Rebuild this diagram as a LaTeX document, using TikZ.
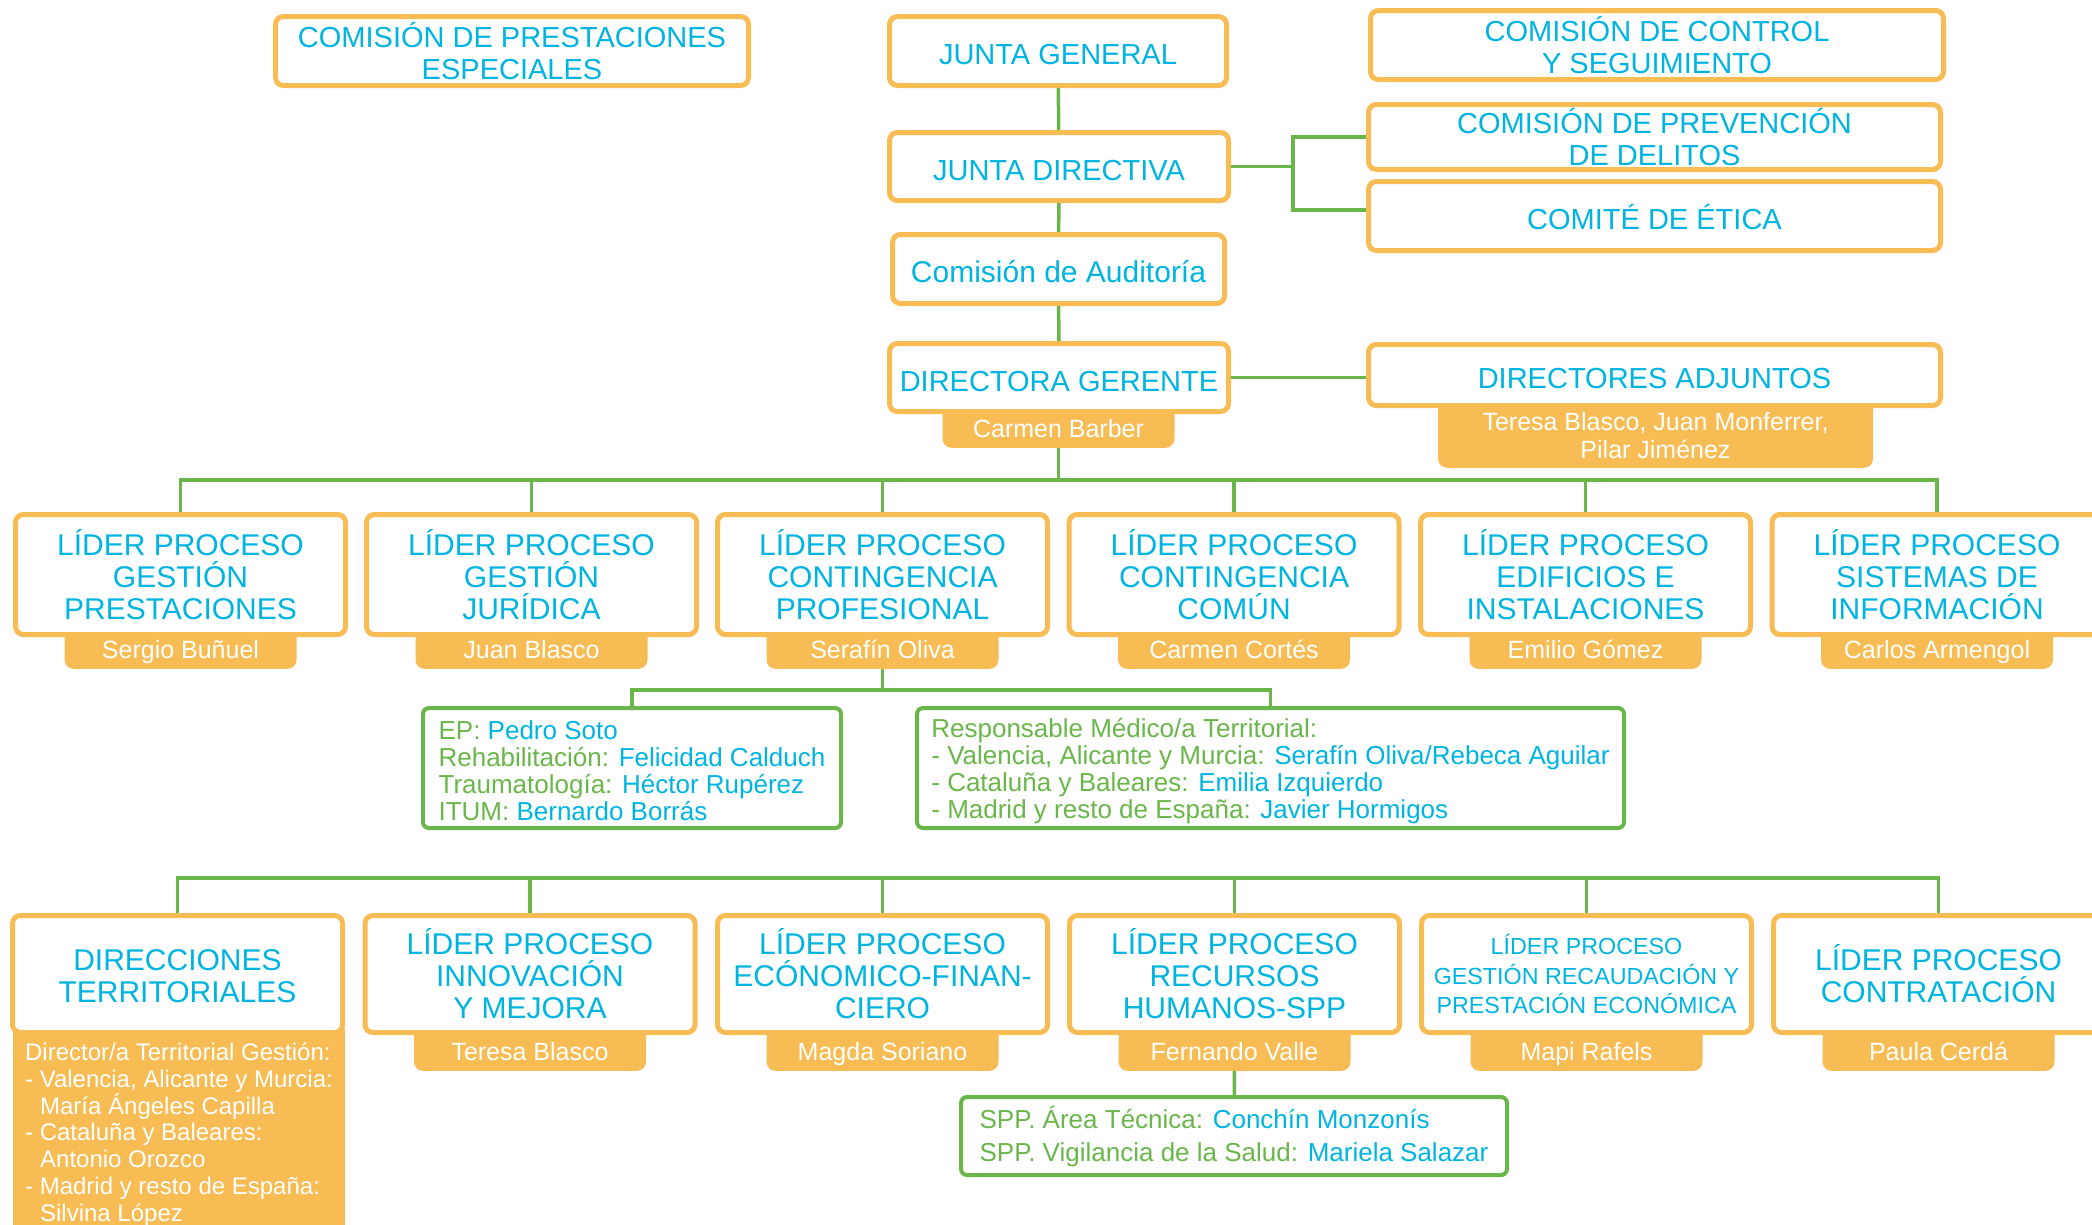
\documentclass[tikz,border=0pt]{standalone}
\usepackage{fontspec}
\setmainfont{Liberation Sans}
\usepackage{tikz}

\definecolor{naranja}{HTML}{F8BC55}
\definecolor{cian}{HTML}{00B4E1}
\definecolor{verde}{HTML}{6BB64A}
\newcommand{\etq}[1]{\textcolor{verde}{#1}}
\newcommand{\alto}{\rule{0pt}{25pt}}

\tikzset{
  caja/.style={draw=naranja, line width=5pt, fill=white, rounded corners=8pt, align=center, text=cian, inner sep=0pt, font=\fontsize{30}{32}\selectfont},
  alta/.style={caja, font=\fontsize{29}{32}\selectfont},
  una/.style={text height=27pt, text depth=0pt},
  lider/.style={caja, minimum width=330pt, minimum height=120pt},
  lidertwo/.style={lider, minimum height=117pt},
  fichabase/.style={fill=naranja, rounded corners=9pt, text=white, inner sep=0pt, font=\fontsize{25}{28}\selectfont},
  ficha/.style={fichabase, anchor=south, minimum width=232pt, minimum height=44pt, text height=24pt, text depth=0pt},
  nota/.style={draw=verde, line width=4pt, fill=white, rounded corners=6pt, align=left, text=cian, inner sep=0pt, font=\fontsize{26}{27}\selectfont},
  linea/.style={draw=verde, line width=3.5pt},
}

\begin{document}
\begin{tikzpicture}[x=1pt, y=-1pt]
\useasboundingbox (0,0) rectangle (2092,1224);

\node[alta, minimum width=473pt, minimum height=69pt] (cpe) at (512,51) {COMISIÓN DE PRESTACIONES\\ESPECIALES};
\node[alta, una, minimum width=337pt, minimum height=69pt] (jg) at (1058,51) {JUNTA GENERAL};
\node[alta, minimum width=573pt, minimum height=69pt] (ccs) at (1657,45) {COMISIÓN DE CONTROL\\Y SEGUIMIENTO};
\node[alta, una, minimum width=339pt, minimum height=68pt] (jd) at (1059,166.5) {JUNTA DIRECTIVA};
\node[alta, minimum width=572pt, minimum height=65pt] (cpd) at (1654.5,137) {COMISIÓN DE PREVENCIÓN\\DE DELITOS};
\node[alta, una, minimum width=572pt, minimum height=69pt] (ce) at (1654.5,216) {COMITÉ DE ÉTICA};
\node[caja, una, minimum width=332pt, minimum height=69pt] (ca) at (1058.5,269) {Comisión de Auditoría};

\node[ficha] (tdg) at (1058.5,448) {Carmen Barber};
\node[alta, una, minimum width=339pt, minimum height=68pt] (dg) at (1059,377.5) {DIRECTORA GERENTE};
\node[fichabase, anchor=south, minimum width=435pt, minimum height=72pt, align=center] (tda) at (1655.5,468) {\rule{0pt}{26pt}Teresa Blasco, Juan Monferrer,\\Pilar Jiménez};
\node[alta, una, minimum width=572pt, minimum height=61pt] (da) at (1654.5,375) {DIRECTORES ADJUNTOS};

\node[ficha] (t1) at (180.5,669) {Sergio Buñuel};
\node[ficha] (t2) at (531.5,669) {Juan Blasco};
\node[ficha] (t3) at (882.5,669) {Serafín Oliva};
\node[ficha] (t4) at (1234,669) {Carmen Cortés};
\node[ficha] (t5) at (1585.5,669) {Emilio Gómez};
\node[ficha] (t6) at (1937,669) {Carlos Armengol};
\node[lider] (b1) at (180.5,574.5) {LÍDER PROCESO\\GESTIÓN\\PRESTACIONES};
\node[lider] (b2) at (531.5,574.5) {LÍDER PROCESO\\GESTIÓN\\JURÍDICA};
\node[lider] (b3) at (882.5,574.5) {LÍDER PROCESO\\CONTINGENCIA\\PROFESIONAL};
\node[lider] (b4) at (1234,574.5) {LÍDER PROCESO\\CONTINGENCIA\\COMÚN};
\node[lider] (b5) at (1585.5,574.5) {LÍDER PROCESO\\EDIFICIOS E\\INSTALACIONES};
\node[lider] (b6) at (1937,574.5) {LÍDER PROCESO\\SISTEMAS DE\\INFORMACIÓN};

\node[nota, minimum width=418pt, minimum height=120pt] (ep) at (632,768) {\alto\etq{EP:} Pedro Soto\\\etq{Rehabilitación:} Felicidad Calduch\\\etq{Traumatología:} Héctor Rupérez\\\etq{ITUM:} Bernardo Borrás};
\node[nota, minimum width=707pt, minimum height=120pt] (med) at (1270.5,768) {\alto\etq{Responsable Médico/a Territorial:}\\\etq{- Valencia, Alicante y Murcia:} Serafín Oliva/Rebeca Aguilar\\\etq{- Cataluña y Baleares:} Emilia Izquierdo\\\etq{- Madrid y resto de España:} Javier Hormigos};

\node[fichabase, anchor=north, sharp corners, minimum width=332pt, align=left, inner ysep=15pt, font=\fontsize{24}{26.7}\selectfont] (tdt) at (179,1028) {Director/a Territorial Gestión:\\- Valencia, Alicante y Murcia:\\\hspace*{15pt}María Ángeles Capilla\\- Cataluña y Baleares:\\\hspace*{15pt}Antonio Orozco\\- Madrid y resto de España:\\\hspace*{15pt}Silvina López};
\node[ficha] (t8) at (530,1071) {Teresa Blasco};
\node[ficha] (t9) at (882.5,1071) {Magda Soriano};
\node[ficha] (t10) at (1234.5,1071) {Fernando Valle};
\node[ficha] (t11) at (1586.5,1071) {Mapi Rafels};
\node[ficha] (t12) at (1938.5,1071) {Paula Cerdá};
\node[lidertwo] (b7) at (177.5,974) {\alto DIRECCIONES\\TERRITORIALES};
\node[lidertwo] (b8) at (530,974) {LÍDER PROCESO\\INNOVACIÓN\\Y MEJORA};
\node[lidertwo] (b9) at (882.5,974) {LÍDER PROCESO\\ECÓNOMICO-FINAN-\\CIERO};
\node[lidertwo] (b10) at (1234.5,974) {LÍDER PROCESO\\RECURSOS\\HUMANOS-SPP};
\node[lidertwo, font=\fontsize{23.3}{29.5}\selectfont] (b11) at (1586.5,974) {LÍDER PROCESO\\GESTIÓN RECAUDACIÓN Y\\PRESTACIÓN ECONÓMICA};
\node[lidertwo] (b12) at (1938.5,974) {LÍDER PROCESO\\CONTRATACIÓN};

\node[nota, minimum width=546pt, minimum height=78pt, font=\fontsize{26}{33}\selectfont] (spp) at (1234,1136) {\etq{SPP. Área Técnica:} Conchín Monzonís\\\etq{SPP. Vigilancia de la Salud:} Mariela Salazar};

\draw[linea] (jg) -- (jd) (jd) -- (ca) (ca) -- (dg);
\draw[linea] (jd.east) -- ++(62,0) coordinate (codo) |- (cpd.west);
\draw[linea] (codo) |- ([yshift=6pt]ce.west);
\draw[linea] (dg.east) -- (dg.east -| da.west);

\coordinate (bus) at (1058.5,480);
\draw[linea] (tdg) -- (bus);
\draw[linea] (b1.north) |- (bus) -| (b6.north);
\draw[linea] (b2.north) -- (b2.north |- bus) (b3.north) -- (b3.north |- bus) (b4.north) -- (b4.north |- bus) (b5.north) -- (b5.north |- bus);

\coordinate (rama) at (882.5,690);
\draw[linea] (t3) -- (rama);
\draw[linea] (ep.north) |- (rama) -| (med.north);

\coordinate (bustwo) at (1058.5,878);
\draw[linea] (b7.north) |- (bustwo) -| (b12.north);
\draw[linea] (b8.north) -- (b8.north |- bustwo) (b9.north) -- (b9.north |- bustwo) (b10.north) -- (b10.north |- bustwo) (b11.north) -- (b11.north |- bustwo);
\draw[linea] (t10) -- (spp);
\end{tikzpicture}
\end{document}
